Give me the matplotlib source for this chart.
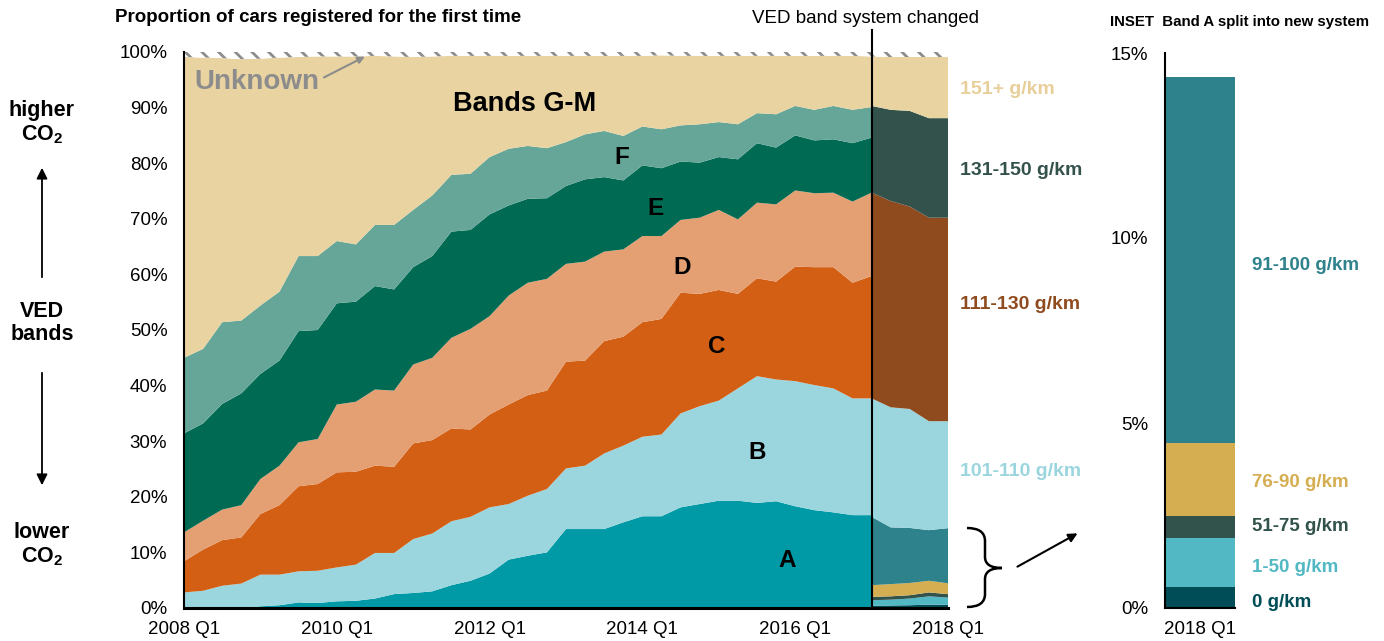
import matplotlib.pyplot as plt
import numpy as np
from matplotlib.path import Path
from matplotlib.patches import PathPatch
import matplotlib.transforms as mtransforms

plt.rcParams['font.family'] = ['Liberation Sans', 'DejaVu Sans']
plt.rcParams['mathtext.fontset'] = 'custom'
plt.rcParams['mathtext.rm'] = 'Liberation Sans'
plt.rcParams['mathtext.bf'] = 'Liberation Sans:bold'
plt.rcParams['hatch.linewidth'] = 2.0
plt.rcParams['hatch.color'] = '#8C8C8C'

W, H = 1384, 641

# quarters 2008 Q1 .. 2018 Q1 -> index 0..40
tick_pos = [0, 8, 16, 24, 32, 40]
tick_labels = ['2008 Q1', '2010 Q1', '2012 Q1', '2014 Q1', '2016 Q1', '2018 Q1']
change_q = 36  # 2017 Q1

# old VED system, cumulative top of each band (%), 2008 Q1 .. 2017 Q1
top_a = [0.0, 0.0, 0.0, 0.05, 0.3, 0.5, 1.0, 0.9, 1.2, 1.3, 1.7, 2.5, 2.7, 3.0, 4.1, 4.9,
         6.2, 8.7, 9.4, 10.0, 14.2, 14.2, 14.2, 15.4, 16.5, 16.5, 18.1, 18.7, 19.3, 19.3,
         18.9, 19.2, 18.3, 17.6, 17.2, 16.7, 16.7]
top_b = [2.8, 3.1, 4.0, 4.4, 6.0, 6.0, 6.6, 6.7, 7.3, 7.8, 9.9, 9.9, 12.4, 13.4, 15.6, 16.4,
         18.1, 18.7, 20.2, 21.4, 25.1, 25.6, 27.8, 29.2, 30.8, 31.2, 35.0, 36.3, 37.3, 39.5,
         41.7, 41.1, 40.8, 40.1, 39.5, 37.7, 37.7]
top_c = [8.4, 10.5, 12.2, 12.7, 16.9, 18.5, 21.9, 22.3, 24.4, 24.5, 25.6, 25.4, 29.6, 30.2,
         32.3, 32.1, 34.8, 36.6, 38.3, 39.1, 44.3, 44.5, 48.0, 48.8, 51.4, 52.0, 56.7, 56.5,
         57.2, 56.5, 59.3, 58.7, 61.4, 61.3, 61.3, 58.5, 59.7]
top_d = [13.6, 15.7, 17.7, 18.5, 23.2, 25.6, 29.8, 30.4, 36.6, 37.1, 39.3, 39.1, 43.8, 45.0,
         48.6, 50.2, 52.5, 56.2, 58.5, 59.2, 61.9, 62.3, 64.1, 64.5, 66.9, 66.9, 69.8, 70.2,
         71.6, 69.9, 72.9, 72.6, 75.1, 74.6, 74.7, 73.1, 74.7]
top_e = [31.4, 33.2, 36.7, 38.6, 42.1, 44.5, 49.8, 50.0, 54.8, 55.1, 57.9, 57.3, 61.3, 63.3,
         67.7, 68.0, 70.8, 72.4, 73.6, 73.7, 75.9, 77.1, 77.5, 76.9, 79.6, 79.1, 80.3, 80.1,
         81.1, 80.7, 83.6, 82.8, 85.0, 84.1, 84.3, 83.6, 84.6]
top_f = [45.0, 46.6, 51.4, 51.7, 54.4, 56.9, 63.3, 63.3, 66.0, 65.4, 68.9, 68.9, 71.6, 74.2,
         77.9, 78.1, 81.1, 82.6, 83.1, 82.7, 83.8, 85.2, 85.8, 84.9, 86.6, 86.1, 86.8, 87.0,
         87.4, 87.0, 89.0, 88.8, 90.3, 89.6, 90.3, 89.6, 90.1]
unknown = [0.9, 1.0, 1.1, 1.3, 1.2, 1.0, 0.9, 0.8, 0.8, 0.8, 0.7, 0.8, 0.9, 0.8, 0.7, 0.7,
           0.7, 0.7, 0.7, 0.7, 0.7, 0.7, 0.7, 0.7, 0.7, 0.6, 0.7, 0.7, 0.7, 0.7, 0.7, 0.7,
           0.7, 0.7, 0.7, 0.7, 0.8, 0.9, 0.9, 0.9, 0.9]

# new VED system, cumulative top of each band (%), 2017 Q1 .. 2018 Q1
top_0 = [0.4, 0.45, 0.5, 0.6, 0.58]
top_1_50 = [1.4, 1.5, 1.7, 2.1, 1.88]
top_51_75 = [2.0, 2.1, 2.3, 2.8, 2.49]
top_76_90 = [4.1, 4.3, 4.5, 4.9, 4.45]
top_91_100 = [16.4, 14.5, 14.4, 14.0, 14.36]
top_101_110 = [37.7, 36.1, 35.8, 33.6, 33.6]
top_111_130 = [74.7, 73.2, 72.2, 70.2, 70.2]
top_131_150 = [90.3, 89.6, 89.4, 88.1, 88.1]

# inset: Band A split, 2018 Q1 (%)
inset_labels = ['0 g/km', '1-50 g/km', '51-75 g/km', '76-90 g/km', '91-100 g/km']
inset_vals = [0.58, 1.30, 0.61, 1.96, 9.91]

old_colors = ['#009AA6', '#9BD5DE', '#D35F14', '#E4A073', '#006A53', '#66A699', '#E8D3A1']
new_colors = ['#004D57', '#52B8C4', '#32524C', '#D6AE52', '#2E828B', '#9BD5DE',
              '#8F4A1E', '#33524C', '#E8D3A1']

fig = plt.figure(figsize=(W / 100, H / 100), dpi=100)
ax = fig.add_axes([184 / W, 1 - 608 / H, 764 / W, 556 / H])

quarters = np.arange(41)
x_old = quarters[:change_q + 1]
x_new = quarters[change_q:]
known = 100 - np.array(unknown)

old_tops = np.vstack([top_a, top_b, top_c, top_d, top_e, top_f, known[:change_q + 1]])
old_shares = np.diff(np.vstack([np.zeros(len(x_old)), old_tops]), axis=0)
ax.stackplot(x_old, old_shares, colors=old_colors, linewidth=0, antialiased=True)

new_tops = np.vstack([top_0, top_1_50, top_51_75, top_76_90, top_91_100, top_101_110,
                      top_111_130, top_131_150, known[change_q:]])
new_shares = np.diff(np.vstack([np.zeros(len(x_new)), new_tops]), axis=0)
ax.stackplot(x_new, new_shares, colors=new_colors, linewidth=0, antialiased=True)

ax.fill_between(quarters, known, 100, facecolor='white', edgecolor='#8C8C8C',
                hatch='\\\\', linewidth=0)

ax.set_xlim(0, 40)
ax.set_ylim(0, 100)
ax.set_yticks(range(0, 101, 10))
ax.set_yticklabels([f'{v}%' for v in range(0, 101, 10)])
ax.set_xticks(tick_pos)
ax.set_xticklabels(tick_labels)
ax.tick_params(axis='both', length=0, labelsize=13.5)
ax.tick_params(axis='y', pad=12)
ax.tick_params(axis='x', pad=9)
for s in ['top', 'right']:
    ax.spines[s].set_visible(False)
ax.spines['left'].set_linewidth(1.5)
ax.spines['bottom'].set_linewidth(2.2)

ax.axvline(change_q, ymin=0, ymax=1.04, color='black', lw=1.5, clip_on=False, zorder=5)
ax.text(35.7, 106.1, 'VED band system changed', ha='center', va='center', fontsize=13.5)

# band labels
ax.text(17.85, 90.6, 'Bands G-M', ha='center', va='center', fontsize=19.5, fontweight='bold')
for lab, xx, yy in [('F', 22.9, 81.0), ('E', 24.7, 71.8), ('D', 26.1, 61.2),
                    ('C', 27.9, 47.0), ('B', 30.0, 28.0), ('A', 31.6, 8.6)]:
    ax.text(xx, yy, lab, ha='center', va='center', fontsize=17.5, fontweight='bold')
ax.text(3.8, 94.6, 'Unknown', ha='center', va='center', fontsize=20, fontweight='bold',
        color='#8C8C8C')
ax.annotate('', xy=(9.6, 99.4), xytext=(7.2, 95.2),
            arrowprops=dict(arrowstyle='-|>', color='#8C8C8C', lw=1.5, mutation_scale=10))

# right labels for new bands
trans = mtransforms.blended_transform_factory(ax.transAxes, ax.transData)
for lab, yy, col in [('151+ g/km', 93.2, '#E8CF9A'), ('131-150 g/km', 78.7, '#33524C'),
                     ('111-130 g/km', 54.5, '#8F4A1E'), ('101-110 g/km', 24.6, '#9BD5DE')]:
    ax.text(1.016, yy, lab, transform=trans, ha='left', va='center', fontsize=14,
            fontweight='bold', color=col)

# titles
fig.text(115 / W, 1 - 18 / H, 'Proportion of cars registered for the first time',
         ha='left', va='center', fontsize=13.5, fontweight='bold')
fig.text(1110 / W, 1 - 22 / H, 'INSET  Band A split into new system',
         ha='left', va='center', fontsize=10.8, fontweight='bold')

# left side CO2 guide
for txt, yy in [('higher\n$\\mathbf{CO_2}$', 123), ('VED\nbands', 323),
                ('lower\n$\\mathbf{CO_2}$', 545)]:
    fig.text(42 / W, 1 - yy / H, txt, ha='center', va='center',
             fontsize=15.5, fontweight='bold', linespacing=1.1)
arrow_kw = dict(arrowstyle='-|>', color='black', lw=1.3, mutation_scale=16)
ax.annotate('', xy=(42 / W, 1 - 165 / H), xytext=(42 / W, 1 - 280 / H),
            xycoords='figure fraction', textcoords='figure fraction', arrowprops=arrow_kw)
ax.annotate('', xy=(42 / W, 1 - 488 / H), xytext=(42 / W, 1 - 370 / H),
            xycoords='figure fraction', textcoords='figure fraction', arrowprops=arrow_kw)


# curly bracket pointing to inset
def fp(x, y):
    return (x / W, 1 - y / H)


verts = [fp(967, 528), fp(985, 528), fp(985, 541), fp(985, 557), fp(985, 568), fp(1002, 568),
         fp(967, 607), fp(985, 607), fp(985, 594), fp(985, 579), fp(985, 568), fp(1002, 568)]
codes = [Path.MOVETO, Path.CURVE3, Path.CURVE3, Path.LINETO, Path.CURVE3, Path.CURVE3] * 2
brace = PathPatch(Path(verts, codes), facecolor='none', edgecolor='black', lw=1.8,
                  transform=fig.transFigure)
fig.add_artist(brace)
ax.annotate('', xy=fp(1080, 532), xytext=fp(1015, 568),
            xycoords='figure fraction', textcoords='figure fraction',
            arrowprops=dict(arrowstyle='-|>', color='black', lw=1.5, mutation_scale=13))

# inset
ax2 = fig.add_axes([1165 / W, 1 - 608 / H, 70 / W, 555 / H])
bottom = 0
inset_colors = new_colors[:5]
for lab, v, c in zip(inset_labels, inset_vals, inset_colors):
    ax2.bar(0, v, bottom=bottom, width=1, color=c, linewidth=0)
    bottom += v
ax2.set_xlim(-0.5, 0.5)
ax2.set_ylim(0, 15)
ax2.set_yticks([0, 5, 10, 15])
ax2.set_yticklabels(['0%', '5%', '10%', '15%'])
ax2.set_xticks([0])
ax2.set_xticklabels(['2018 Q1'])
ax2.tick_params(axis='both', length=0, labelsize=13.5)
ax2.tick_params(axis='y', pad=12)
ax2.tick_params(axis='x', pad=9)
for s in ['top', 'right']:
    ax2.spines[s].set_visible(False)
ax2.spines['left'].set_linewidth(1.5)
ax2.spines['bottom'].set_linewidth(1.5)

inset_text_y = [0.15, 1.1, 2.2, 3.4, 9.25]
label_trans = mtransforms.blended_transform_factory(fig.transFigure, ax2.transData)
for lab, yy, c in zip(inset_labels, inset_text_y, inset_colors):
    ax2.text(1252 / W, yy, lab, transform=label_trans, ha='left', va='center',
             fontsize=13.5, fontweight='bold', color=c)

fig.savefig('out.png', dpi=100)
